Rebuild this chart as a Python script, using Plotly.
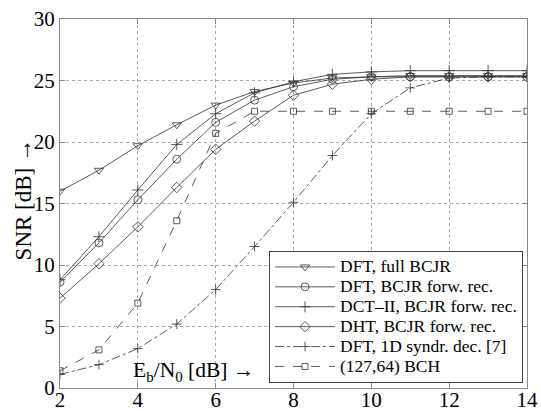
import plotly.graph_objects as go

ebn0 = [2, 3, 4, 5, 6, 7, 8, 9, 10, 11, 12, 13, 14]
dft_full = [16.0, 17.7, 19.7, 21.4, 23.0, 24.1, 24.8, 25.2, 25.3, 25.4, 25.4, 25.4, 25.4]
dft_forw = [8.6, 11.8, 15.3, 18.6, 21.6, 23.4, 24.5, 25.1, 25.3, 25.3, 25.3, 25.3, 25.3]
dct_forw = [8.8, 12.3, 16.1, 19.8, 22.3, 24.0, 24.9, 25.5, 25.7, 25.8, 25.8, 25.8, 25.8]
dht_forw = [7.3, 10.1, 13.1, 16.3, 19.4, 21.7, 23.8, 24.7, 25.1, 25.3, 25.3, 25.3, 25.3]
dft_1d = [1.1, 1.9, 3.2, 5.2, 8.0, 11.5, 15.1, 18.9, 22.3, 24.4, 25.2, 25.3, 25.3]
bch = [1.4, 3.1, 6.9, 13.6, 20.7, 22.5, 22.5, 22.5, 22.5, 22.5, 22.5, 22.5, 22.5]

names = ["DFT, full BCJR", "DFT, BCJR forw. rec.", "DCT\u2013II, BCJR forw. rec.",
         "DHT, BCJR forw. rec.", "DFT, 1D syndr. dec. [7]", "(127,64) BCH"]
series = [dft_full, dft_forw, dct_forw, dht_forw, dft_1d, bch]
symbols = ["triangle-down-open", "circle-open", "cross-thin", "diamond-open", "cross-thin", "square-open"]
dashes = ["solid", "solid", "solid", "solid", "dashdot", "dash"]
sizes = [8, 8, 8, 8, 7, 6]

SERIF = "Liberation Serif"

fig = go.Figure()
for n, s, sym, d, sz in zip(names, series, symbols, dashes, sizes):
    fig.add_trace(go.Scatter(
        x=ebn0, y=s, name='<span style="font-size:17.5px">' + n + '</span>',
        mode="lines+markers",
        line=dict(color="#333", width=0.8, dash=d),
        marker=dict(symbol=sym, size=sz, color="#333", line=dict(color="#333", width=0.8)),
    ))

axis_common = dict(
    showline=True, linecolor="#888", linewidth=1, mirror="ticks",
    ticks="inside", ticklen=5, tickcolor="#888",
    showgrid=True, gridcolor="#aaa", griddash="dot", gridwidth=1,
    zeroline=False, automargin=False,
    tickfont=dict(family=SERIF, size=21, color="black"),
)

fig.update_layout(
    width=541, height=411,
    margin=dict(l=60, r=14, t=19, b=23),
    paper_bgcolor="white", plot_bgcolor="white",
    font=dict(family=SERIF, size=16, color="black"),
    xaxis=dict(range=[2, 14], tickvals=[2, 4, 6, 8, 10, 12, 14], ticklabelstandoff=-7, **axis_common),
    yaxis=dict(range=[0, 30], tickvals=[0, 5, 10, 15, 20, 25, 30], **axis_common),
    legend=dict(x=0.9915, y=0.0136, xanchor="right", yanchor="bottom",
                bgcolor="white", bordercolor="#444", borderwidth=1,
                font=dict(family=SERIF, size=13),
                itemwidth=60, tracegroupgap=0),
    showlegend=True,
)

fig.add_annotation(
    text="SNR [dB] \u2192", xref="paper", yref="paper",
    x=-0.078, y=0.51, showarrow=False, textangle=-90,
    xanchor="center", yanchor="middle",
    font=dict(family=SERIF, size=23, color="black"),
)

fig.add_annotation(
    text="E<sub>b</sub>/N<sub>0</sub> [dB] \u2192", xref="x", yref="paper",
    x=5.42, y=0.045, showarrow=False, xanchor="center", yanchor="middle",
    font=dict(family=SERIF, size=21.5, color="black"),
)

fig.write_html("out.html", config={"displayModeBar": False},
               post_script="document.body.style.margin='0';document.body.style.padding='0';")
